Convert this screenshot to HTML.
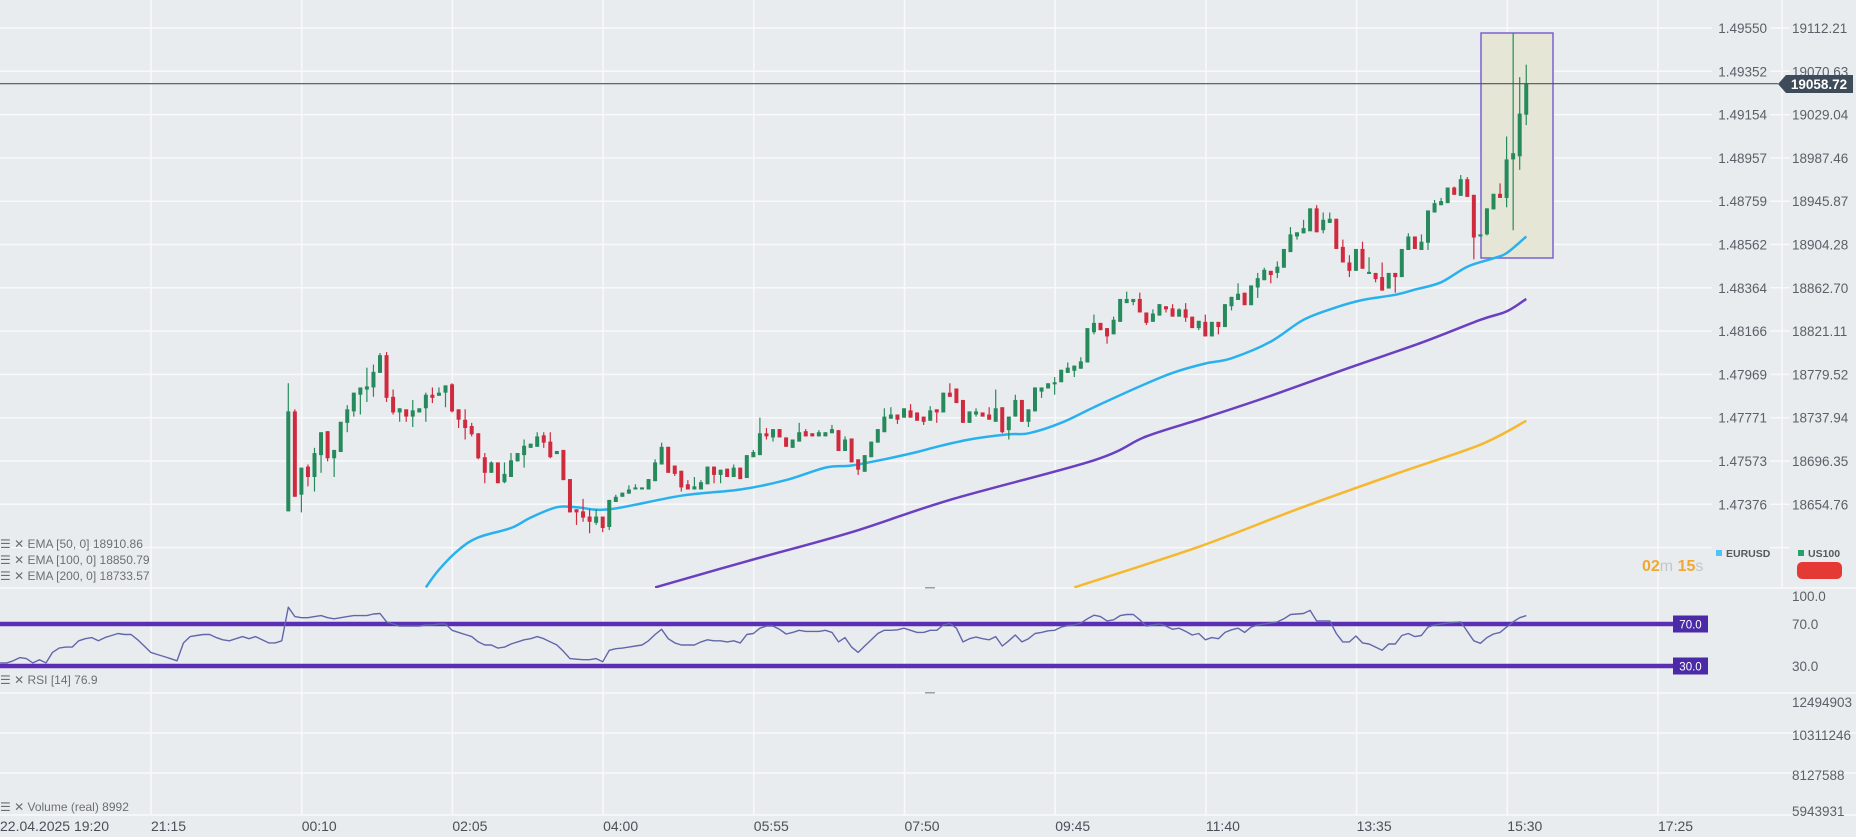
<!DOCTYPE html>
<html><head><meta charset="utf-8">
<style>
html,body{margin:0;padding:0;background:#e9ecef;}
svg{display:block;font-family:"Liberation Sans",sans-serif;}
</style></head>
<body>
<svg id="chart" width="1856" height="837" viewBox="0 0 1856 837" xmlns="http://www.w3.org/2000/svg">
<rect x="0" y="0" width="1856" height="837" fill="#e9ecef"/>
<g id="grid"></g>
<defs><clipPath id="mainClip"><rect x="0" y="0" width="1712" height="588"/></clipPath></defs>
<rect x="1481" y="33" width="72" height="225" fill="#e6e6d6" stroke="#7b61d1" stroke-width="1.5"/>
<g id="emas" clip-path="url(#mainClip)"></g>
<g id="candles"></g>
<g id="rsi"></g>
<g id="labels"></g>

<line x1="0" y1="83.7" x2="1778" y2="83.7" stroke="#4a5560" stroke-width="1.2"/>
<polygon points="1778,84 1786,75 1853,75 1853,93 1786,93" fill="#3e4c59"/>
<text x="1819" y="89" text-anchor="middle" font-size="13.5" font-weight="bold" fill="#ffffff">19058.72</text>

<g font-size="12" fill="#6b6f75">
 <text x="0" y="548">☰ ✕ EMA [50, 0] 18910.86</text>
 <text x="0" y="564">☰ ✕ EMA [100, 0] 18850.79</text>
 <text x="0" y="580">☰ ✕ EMA [200, 0] 18733.57</text>
 <text x="0" y="684">☰ ✕ RSI [14] 76.9</text>
 <text x="0" y="811">☰ ✕ Volume (real) 8992</text>
</g>

<text x="1642" y="571" font-size="16"><tspan fill="#f0a832" font-weight="bold">02</tspan><tspan fill="#c3c6ca">m </tspan><tspan fill="#f0a832" font-weight="bold">15</tspan><tspan fill="#c3c6ca">s</tspan></text>
<rect x="1716" y="550" width="6" height="6" fill="#4fc3f7"/>
<text x="1726" y="557" font-size="10.5" font-weight="bold" fill="#555a60">EURUSD</text>
<rect x="1798" y="550" width="6" height="6" fill="#23a26a"/>
<text x="1808" y="557" font-size="10.5" font-weight="bold" fill="#555a60">US100</text>
<rect x="1797" y="562" width="45" height="17" rx="5" fill="#e53935"/>
<rect x="925" y="587" width="10" height="1.5" fill="#9aa0a6"/>
<rect x="925" y="692" width="10" height="1.5" fill="#9aa0a6"/>
</svg>
<script>
const NS="http://www.w3.org/2000/svg";
const opens=[18648,18744,18664,18691,18681,18702,18725,18699,18705,18733,18744,18760,18765,18767,18781,18798,18758,18743,18746,18739,18743,18747,18760,18759,18762,18770,18746,18736,18730,18723,18700,18685,18695,18676,18681,18696,18702,18709,18710,18721,18715,18703,18707,18679,18650,18648,18643,18637,18643,18633,18657,18662,18665,18669,18669,18669,18677,18693,18710,18692,18687,18674,18669,18669,18674,18691,18683,18689,18681,18690,18680,18700,18702,18723,18719,18727,18719,18709,18715,18725,18723,18720,18720,18723,18726,18706,18718,18698,18686,18700,18714,18724,18737,18741,18738,18745,18743,18739,18735,18746,18743,18762,18766,18755,18733,18741,18743,18741,18734,18748,18726,18739,18755,18734,18744,18763,18766,18770,18772,18781,18783,18785,18791,18820,18829,18824,18818,18830,18848,18849,18852,18839,18830,18836,18845,18843,18835,18842,18835,18824,18830,18816,18830,18825,18845,18851,18858,18846,18863,18870,18879,18877,18882,18897,18912,18915,18917,18939,18918,18925,18929,18902,18887,18879,18900,18876,18877,18873,18862,18877,18873,18899,18912,18899,18906,18935,18942,18944,18959,18951,18967,18952,18912,18914,18938,18953,18949,18986,18989,19029];
const highs=[18771,18746,18690,18693,18709,18724,18725,18707,18734,18750,18762,18767,18786,18789,18800,18801,18765,18747,18746,18755,18747,18762,18767,18767,18769,18771,18746,18746,18733,18723,18704,18696,18695,18695,18704,18704,18717,18713,18724,18724,18724,18706,18707,18679,18650,18660,18650,18650,18643,18659,18664,18666,18673,18674,18671,18679,18698,18714,18710,18692,18687,18678,18681,18678,18691,18691,18688,18689,18693,18690,18702,18707,18738,18728,18727,18727,18719,18717,18733,18727,18723,18726,18724,18731,18726,18720,18718,18698,18702,18715,18727,18747,18748,18741,18747,18751,18743,18739,18749,18746,18762,18771,18766,18755,18744,18747,18743,18748,18765,18748,18739,18760,18755,18746,18767,18767,18771,18777,18784,18791,18788,18796,18824,18837,18829,18824,18835,18852,18859,18852,18858,18839,18842,18847,18845,18847,18843,18848,18835,18831,18837,18830,18830,18847,18854,18867,18858,18865,18877,18882,18879,18888,18900,18921,18916,18928,18939,18942,18935,18935,18929,18909,18894,18900,18907,18892,18877,18887,18877,18877,18900,18915,18912,18914,18937,18947,18949,18959,18960,18971,18969,18952,18914,18939,18953,18963,19008,19107,19065,19077];
const lows=[18648,18662,18647,18672,18667,18685,18696,18681,18705,18724,18739,18741,18753,18758,18781,18753,18741,18734,18734,18729,18743,18734,18752,18759,18748,18743,18728,18717,18720,18698,18675,18685,18675,18675,18681,18696,18690,18709,18710,18709,18699,18703,18678,18647,18635,18638,18627,18635,18628,18630,18657,18662,18665,18669,18669,18669,18677,18693,18685,18682,18667,18669,18669,18669,18674,18675,18675,18681,18681,18679,18680,18700,18702,18717,18715,18719,18710,18709,18715,18720,18720,18720,18720,18723,18706,18706,18695,18683,18686,18700,18714,18724,18737,18732,18738,18738,18735,18731,18735,18733,18743,18758,18752,18733,18733,18739,18739,18736,18734,18723,18717,18739,18734,18729,18744,18757,18766,18760,18772,18781,18777,18785,18791,18818,18822,18809,18818,18830,18848,18846,18839,18827,18830,18836,18839,18835,18835,18830,18824,18822,18816,18816,18818,18825,18841,18851,18846,18846,18853,18870,18867,18872,18882,18897,18909,18915,18917,18916,18915,18925,18900,18887,18873,18879,18881,18876,18868,18860,18862,18858,18873,18899,18900,18899,18899,18935,18942,18944,18952,18951,18950,18890,18912,18913,18938,18949,18940,18918,18976,19019];
const closes=[18744,18662,18690,18681,18704,18724,18699,18707,18734,18746,18762,18767,18768,18782,18798,18757,18743,18747,18739,18745,18747,18760,18757,18762,18769,18744,18736,18728,18722,18699,18685,18695,18675,18684,18697,18704,18711,18713,18720,18714,18700,18706,18678,18647,18647,18642,18638,18643,18632,18659,18662,18666,18669,18671,18671,18679,18695,18710,18685,18684,18671,18669,18672,18676,18691,18683,18688,18681,18690,18679,18702,18705,18723,18720,18727,18719,18710,18717,18724,18720,18720,18724,18724,18727,18706,18717,18695,18688,18702,18715,18727,18739,18741,18736,18747,18738,18735,18734,18745,18743,18762,18758,18752,18733,18744,18744,18739,18736,18747,18724,18739,18755,18734,18746,18767,18767,18771,18772,18784,18786,18788,18792,18824,18829,18822,18816,18832,18852,18852,18852,18839,18829,18838,18847,18842,18835,18842,18834,18824,18831,18816,18830,18825,18847,18854,18857,18846,18865,18872,18880,18875,18883,18900,18914,18916,18920,18939,18916,18928,18929,18900,18887,18879,18900,18881,18878,18871,18860,18877,18873,18900,18912,18900,18907,18937,18944,18946,18959,18952,18967,18950,18911,18914,18939,18953,18949,18986,18992,19030,19059];
const ema50Idx=[22,24,27,30,35,38,42,45,50,61,70,77,83,87,92,97,100,105,111,114,119,124,131,136,141,145,151,156,161,165,170,173,177,181,185,187,190];
const ema50Val=[18575,18592,18611,18623,18632,18642,18652,18652,18650,18663,18669,18678,18690,18692,18698,18705,18710,18717,18722,18723,18733,18748,18768,18781,18790,18795,18811,18832,18844,18851,18856,18861,18868,18883,18891,18896,18912];
const ema100Idx=[57,71,87,102,124,132,141,151,163,174,183,187,190];
const ema100Val=[18575,18600,18628,18659,18697,18720,18738,18759,18786,18810,18832,18840,18852];
const ema200Idx=[121,140,155,171,183,190];
const ema200Val=[18575,18614,18650,18686,18712,18735];
const rsiVals=[33,33,35,38,37,33,36,33,43,47,48,48,54,56,57,54,57,59,61,60,60,55,49,43,41,39,37,35,52,58,59,60,60,57,55,54,56,58,56,58,55,52,52,54,86,77,76,76,77,78,76,75,76,77,78,78,78,79.5,80,72,70,68,68,68,68,69,69,70,70,64,62,60,58,53,50,50,47,48,51,53,55,56,58,56,53,50,44,37,36.5,36,36,37,34,45,46.5,47,48,49,50,54,60,65,56,52,50,50,50,53,55,54,54,53,54,52,60,61,66,68,68,65,60.5,62,64,63,63,63,64,62,53,57,48,43,49,55,61,64,64,64.5,66,64,62,62,64,64,69,70.6,66,53,56,57.5,56,55,58,49,54,59.5,53,56,61,62,63.5,64,67,68.5,69,71,75,78.4,77,73,74,78,79,79,74,68,69,70,68,65,66,63,59.5,61,55,57,56,62,64.5,66,62,67,69,70,71,72,75,79,79.5,80,83,73,73,73,61,53,53,58.6,52,51,48,45,51,51,59,61,58,59,67,69,70,71,71.5,72,63,54,51.6,57,60.5,62,67,72,76,78];
const rsiStart=-43;
const priceTicks=["1.49550","1.49352","1.49154","1.48957","1.48759","1.48562","1.48364","1.48166","1.47969","1.47771","1.47573","1.47376"];
const indexTicks=["19112.21","19070.63","19029.04","18987.46","18945.87","18904.28","18862.70","18821.11","18779.52","18737.94","18696.35","18654.76"];
const timeTicks=["21:15","00:10","02:05","04:00","05:55","07:50","09:45","11:40","13:35","15:30","17:25"];
const rsiTicks=[100,70,30];
const volTicks=["12494903","10311246","8127588","5943931"];

function yP(v){return 28+(19112.21-v)/41.585*43.3;}
function xC(i){return 288.3+6.55*(i-1);}
function yR(r){return 624+(70-r)*1.05;}
function mk(tag,attrs,parent){const e=document.createElementNS(NS,tag);for(const k in attrs)e.setAttribute(k,attrs[k]);parent.appendChild(e);return e;}

const grid=document.getElementById('grid');
for(let k=0;k<13;k++){const y=28+43.3*k;
 const l=mk('line',{x1:0,y1:y,x2:1712,y2:y,stroke:'#f8f9fa','stroke-width':1.5},grid);
 
 
 const t=mk('line',{x1:1770,y1:y,x2:1790,y2:y,stroke:'#f8f9fa','stroke-width':1.5},grid);
 
 }
[588,693,733,773,815].forEach(y=>{const l=mk('line',{x1:0,y1:y,x2:1856,y2:y,stroke:'#f8f9fa','stroke-width':1.5},grid);
 
 });
for(let k=0;k<11;k++){const x=151+150.7*k;
 const l=mk('line',{x1:x,y1:0,x2:x,y2:815,stroke:'#f8f9fa','stroke-width':1.5},grid);
 
 }
const sep=mk('line',{x1:1782,y1:0,x2:1782,y2:588,stroke:'#f8f9fa','stroke-width':1.5},grid);



const lab=document.getElementById('labels');
priceTicks.forEach((s,k)=>{const t=mk('text',{x:1767,y:28+43.3*k+5,'text-anchor':'end','font-size':13.5,fill:'#5b6068'},lab);t.textContent=s;
 
 });
indexTicks.forEach((s,k)=>{const t=mk('text',{x:1792,y:28+43.3*k+5,'font-size':13.5,fill:'#5b6068'},lab);t.textContent=s;
 
 });
const d0=mk('text',{x:0,y:831,'font-size':14,fill:'#4b5058'},lab);d0.textContent='22.04.2025  19:20';


timeTicks.forEach((s,k)=>{const t=mk('text',{x:151+150.7*k,y:831,'font-size':14,fill:'#4b5058'},lab);t.textContent=s;
 
 });
rsiTicks.forEach(r=>{const yy=r===100?596:yR(r);const t=mk('text',{x:1792,y:yy+5,'font-size':13.5,fill:'#5b6068'},lab);t.textContent=r.toFixed(1);
 
 });
const volY=[702,735,775,811];
volTicks.forEach((s,k)=>{const t=mk('text',{x:1792,y:volY[k]+5,'font-size':13.5,fill:'#5b6068'},lab);t.textContent=s;
 
 });

const cg=document.getElementById('candles');
for(let i=0;i<closes.length;i++){
 const x=xC(i+1),o=opens[i],c=closes[i],up=c>=o,col=up?'#268a5c':'#d02a3e';
 const w=mk('line',{x1:x,y1:yP(highs[i]),x2:x,y2:yP(lows[i]),stroke:col,'stroke-width':1.2},cg);
 
 
 const top=yP(Math.max(o,c)),bot=yP(Math.min(o,c));
 const b=mk('rect',{x:x-2,y:top,width:4,height:Math.max(1.5,bot-top),fill:col},cg);
 
 
}

function smoothPath(pts){let d='M'+pts[0][0].toFixed(1)+','+pts[0][1].toFixed(1);
 for(let i=0;i<pts.length-1;i++){const p0=pts[Math.max(0,i-1)],p1=pts[i],p2=pts[i+1],p3=pts[Math.min(pts.length-1,i+2)];
  const c1x=p1[0]+(p2[0]-p0[0])/6,c1y=p1[1]+(p2[1]-p0[1])/6,c2x=p2[0]-(p3[0]-p1[0])/6,c2y=p2[1]-(p3[1]-p1[1])/6;
  d+=' C'+c1x.toFixed(1)+','+c1y.toFixed(1)+' '+c2x.toFixed(1)+','+c2y.toFixed(1)+' '+p2[0].toFixed(1)+','+p2[1].toFixed(1);}
 return d;}
const eg=document.getElementById('emas');
function emaLine(idx,vals,col,name){const pts=idx.map((ix,k)=>[xC(ix),yP(vals[k])]);
 const p=mk('path',{d:smoothPath(pts),fill:'none',stroke:col,'stroke-width':2.5,'stroke-linejoin':'round'},eg);
 
 }
emaLine(ema200Idx,ema200Val,'#f5b82e','ema-200-line');
emaLine(ema100Idx,ema100Val,'#6a3fc0','ema-100-line');
emaLine(ema50Idx,ema50Val,'#29b1ee','ema-50-line');

const rg=document.getElementById('rsi');
[70,30].forEach(r=>{const l=mk('line',{x1:0,y1:yR(r),x2:1673,y2:yR(r),stroke:'#5a2fb3','stroke-width':4.5},rg);
 
 
 const b=mk('rect',{x:1673,y:yR(r)-8.5,width:35,height:17,fill:'#4a2aa6'},rg);
 
 
 const t=mk('text',{x:1690.5,y:yR(r)+4.5,'text-anchor':'middle','font-size':11.5,fill:'#ffffff'},rg);t.textContent=r.toFixed(1);
 
 });
const rd=rsiVals.map((r,j)=>(j?'L':'M')+xC(j+rsiStart).toFixed(1)+','+yR(r).toFixed(1)).join(' ');
const rp=mk('path',{d:rd,fill:'none',stroke:'#6266aa','stroke-width':1.4,'stroke-linejoin':'round'},rg);


</script>
</body></html>
